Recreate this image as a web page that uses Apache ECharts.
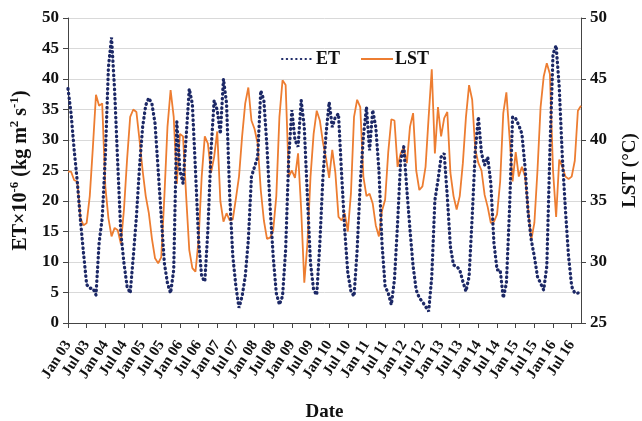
<!DOCTYPE html>
<html><head><meta charset="utf-8">
<script src="https://cdn.jsdelivr.net/npm/echarts@6/dist/echarts.min.js"></script>
<style>html,body{margin:0;padding:0;background:#fff}#c{width:642px;height:421px}</style>
</head><body><div id="c"></div>
<script>
// Monthly series, Jan 2003 .. Oct 2016
const years = ['03','04','05','06','07','08','09','10','11','12','13','14','15','16'];
const months = ['Jan','Feb','Mar','Apr','May','Jun','Jul','Aug','Sep','Oct','Nov','Dec'];
const nPoints = 166;
const tickLabels = ['Jan 03','Jul 03','Jan 04','Jul 04','Jan 05','Jul 05','Jan 06','Jul 06','Jan 07','Jul 07','Jan 08','Jul 08','Jan 09','Jul 09','Jan 10','Jul 10','Jan 11','Jul 11','Jan 12','Jul 12','Jan 13','Jul 13','Jan 14','Jul 14','Jan 15','Jul 15','Jan 16','Jul 16'];

const etValues = [
38.4,34.3,28.3,23.1,16.9,11.4,6.3,5.7,5.7,4.6,13.1,17.2,
27.2,41.9,46.8,38.1,26.1,14.7,9.8,6.0,4.9,10.9,17.4,25.6,
32.1,35.7,36.9,35.9,32.7,25.1,17.4,9.8,6.5,4.9,8.7,33.0,
25.0,22.9,30.5,38.4,35.9,25.1,13.6,7.6,6.8,15.3,28.3,36.5,
34.9,31.0,40.0,36.0,21.0,11.0,6.0,2.5,4.4,7.6,13.6,24.0,
25.6,27.2,38.1,36.5,28.9,19.1,10.9,4.9,3.0,4.4,12.0,27.2,
34.9,30.0,28.9,36.5,32.1,20.7,9.8,5.4,4.6,13.1,24.0,31.0,
36.2,32.1,33.8,34.3,24.5,15.3,8.2,5.2,4.4,12.0,22.9,30.5,
35.4,28.3,34.9,32.1,25.1,13.0,6.0,4.9,3.0,7.1,16.3,26.7,
28.9,21.8,15.3,9.3,5.4,4.1,3.5,2.7,1.9,7.6,20.1,23.4,
27.2,27.8,20.7,12.5,9.5,9.3,8.7,6.8,5.2,7.6,17.4,28.3,
33.8,27.8,25.9,27.2,22.9,13.1,8.7,8.7,4.1,6.5,18.5,33.8,
33.5,32.4,31.0,25.6,18.0,13.6,10.9,7.6,6.5,5.4,9.3,28.3,
44.1,45.5,38.7,27.2,18.5,10.9,6.0,4.9,4.9,5.4
];
const lstValues = [
37.4,37.4,36.7,36.6,33.6,33.0,33.2,35.4,39.4,43.7,42.8,43.0,
36.2,33.6,32.1,32.8,32.6,31.5,34.3,38.4,41.9,42.5,42.3,40.0,
37.5,35.4,34.0,31.9,30.3,29.9,30.4,35.4,41.1,44.1,41.9,36.4,
40.5,40.3,35.4,31.0,29.5,29.2,31.8,37.0,40.3,39.7,37.3,38.6,
40.7,35.0,33.3,34.0,33.4,33.5,35.2,37.0,40.3,43.0,44.3,41.6,
40.9,39.7,35.9,33.4,31.9,32.0,32.6,35.4,41.9,44.9,44.5,37.0,
37.5,36.9,38.9,34.3,28.3,31.5,37.0,40.5,42.4,41.6,39.8,38.5,
36.9,39.2,37.3,33.7,33.4,34.0,32.5,35.6,41.9,43.3,42.7,37.0,
35.4,35.6,34.8,33.0,32.1,34.2,35.1,39.0,41.7,41.6,37.8,38.9,
39.4,38.1,41.1,42.2,37.5,35.9,36.2,37.8,41.9,45.8,38.9,42.7,
40.3,41.8,42.3,37.3,35.4,34.3,35.4,38.1,41.9,44.5,43.3,39.2,
38.1,37.5,35.5,34.5,33.2,33.3,33.9,36.6,42.2,43.9,40.3,36.6,
39.0,37.0,37.8,37.0,34.4,31.8,33.2,37.5,42.7,45.2,46.3,45.4,
37.5,33.7,38.4,37.8,37.0,36.8,37.0,38.3,42.4,42.8
];

const categories = [];
for (let y = 0; y < years.length; y++) {
  for (let m = 0; m < 12; m++) {
    if (categories.length < nPoints) categories.push(months[m] + ' ' + years[y]);
  }
}

const serif = '"Liberation Serif","DejaVu Serif",serif';
const txt = '#111';
const chart = echarts.init(document.getElementById('c'));
chart.setOption({
  animation: false,
  backgroundColor: '#fff',
  grid: { left: 68, right: 61, top: 18, bottom: 98, containLabel: false, outerBoundsMode: 'none' },
  legend: {
    left: 276, top: 45, itemGap: 20, itemWidth: 32, itemHeight: 14,
    itemStyle: { opacity: 0 },
    textStyle: { fontFamily: serif, fontWeight: 'bold', fontSize: 18, color: txt, padding: [0, 0, 0, -3] },
    data: ['ET', 'LST']
  },
  xAxis: {
    type: 'category', data: categories, boundaryGap: false,
    name: 'Date', nameLocation: 'middle', nameGap: 80,
    nameTextStyle: { fontFamily: serif, fontWeight: 'bold', fontSize: 19, color: txt },
    axisLine: { lineStyle: { color: '#444', width: 1 } },
    axisTick: { alignWithLabel: true, interval: (i) => i % 6 === 0, length: 5, lineStyle: { color: '#444' } },
    axisLabel: {
      interval: (i) => i % 6 === 0, rotate: 57, margin: 19,
      formatter: (v, i) => tickLabels[i / 6] || v,
      fontFamily: serif, fontWeight: 'bold', fontSize: 15, color: txt
    },
    splitLine: { show: false }
  },
  yAxis: [
    {
      type: 'value', min: 0, max: 50, interval: 5,
      name: '{b|ET×10}{s|-6}{b| (kg m}{s|2}{b| s}{s|-1}{b|)}', nameLocation: 'middle', nameGap: 35,
      nameTextStyle: {
        fontFamily: serif, fontWeight: 'bold', fontSize: 20, color: txt,
        rich: {
          b: { fontFamily: serif, fontWeight: 'bold', fontSize: 20, color: txt, lineHeight: 23, verticalAlign: 'bottom' },
          s: { fontFamily: serif, fontWeight: 'bold', fontSize: 13, color: txt, lineHeight: 23, verticalAlign: 'top' }
        }
      },
      axisLine: { show: true, lineStyle: { color: '#444' } },
      axisTick: { show: true, length: 5, lineStyle: { color: '#444' } },
      axisLabel: { fontFamily: serif, fontWeight: 'bold', fontSize: 17, color: txt, margin: 9 },
      splitLine: { lineStyle: { color: '#d9d9d9', width: 1 } }
    },
    {
      type: 'value', min: 25, max: 50, interval: 5, position: 'right',
      name: 'LST (°C)', nameLocation: 'middle', nameGap: 40, nameRotate: 90,
      nameTextStyle: { fontFamily: serif, fontWeight: 'bold', fontSize: 19, color: txt },
      axisLine: { show: true, lineStyle: { color: '#444' } },
      axisTick: { show: true, length: 5, lineStyle: { color: '#444' } },
      axisLabel: { fontFamily: serif, fontWeight: 'bold', fontSize: 17, color: txt, margin: 9 },
      splitLine: { show: false }
    }
  ],
  series: [
    {
      name: 'ET', type: 'line', yAxisIndex: 0, data: etValues,
      symbol: 'none', smooth: false,
      itemStyle: { color: '#1c2866' },
      lineStyle: { color: '#1c2866', width: 3.3, type: [0.5, 4.2], cap: 'round' },
      z: 3
    },
    {
      name: 'LST', type: 'line', yAxisIndex: 1, data: lstValues,
      symbol: 'none', smooth: false,
      itemStyle: { color: '#ed7d31' },
      lineStyle: { color: '#ed7d31', width: 1.8 },
      z: 2
    }
  ]
});
</script>
</body></html>
